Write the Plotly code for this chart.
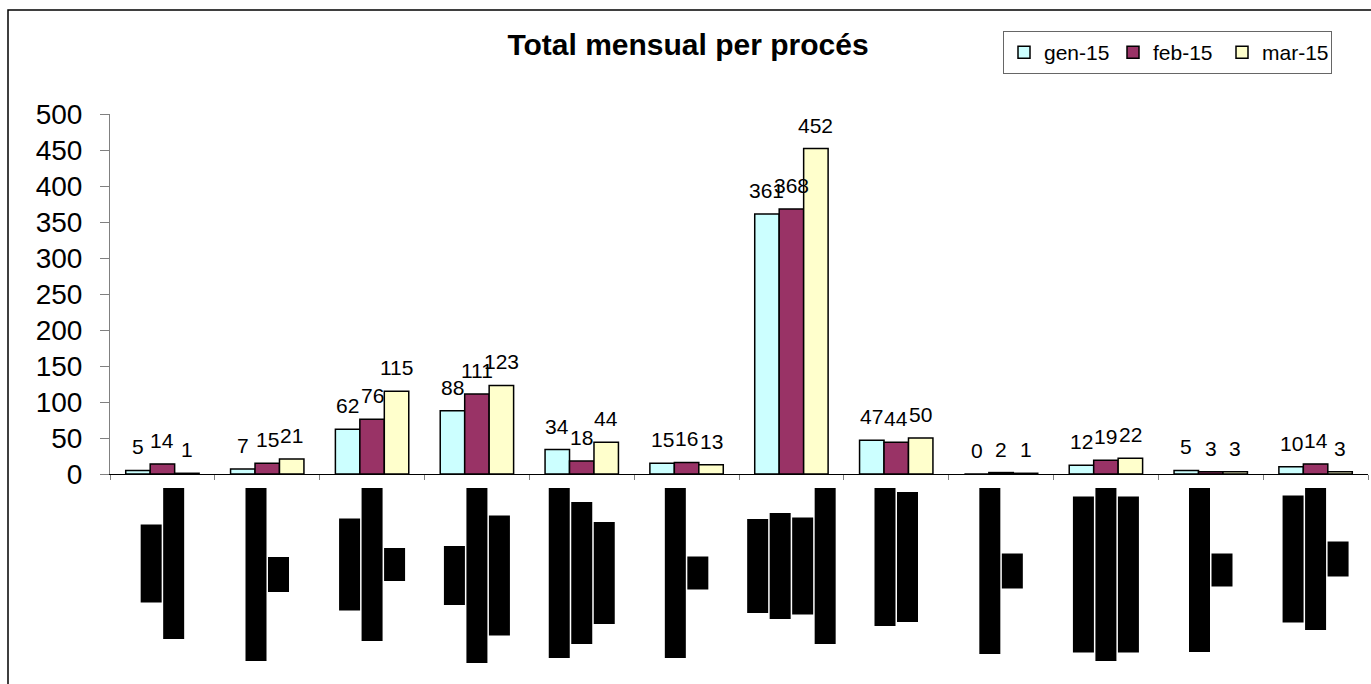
import plotly.graph_objects as go

# Process categories (label text is blanked out on the chart)
categories = [f"P{i:02d}" for i in range(1, 13)]
months = ["gen-15", "feb-15", "mar-15"]

gen_15 = [5, 7, 62, 88, 34, 15, 361, 47, 0, 12, 5, 10]
feb_15 = [14, 15, 76, 111, 18, 16, 368, 44, 2, 19, 3, 14]
mar_15 = [1, 21, 115, 123, 44, 13, 452, 50, 1, 22, 3, 3]

y_ticks = [0, 50, 100, 150, 200, 250, 300, 350, 400, 450, 500]

# Lengths (px) of the blanked-out label lines under each category
label_lines = [
    [78, 151], [173, 35], [92, 153, 33], [59, 175, 120],
    [170, 142, 102], [170, 33], [94, 106, 97, 156], [138, 130],
    [166, 35], [156, 173, 156], [164, 33], [127, 142, 35],
]

W, H = 1371, 684
ML, MR, MT, MB = 110, 3, 114, 210
PW, PH = W - ML - MR, H - MT - MB

FONT = "Arial, 'Liberation Sans', sans-serif"
colors = ["#CCFFFF", "#993366", "#FFFFCC"]
series = [gen_15, feb_15, mar_15]
BARGAP = 0.3

fig = go.Figure()
for name, vals, col in zip(months, series, colors):
    fig.add_trace(go.Bar(
        x=categories, y=vals, name=name,
        marker=dict(color=col, line=dict(color="black", width=1.5)),
    ))

# Value labels above each bar
bw = (1 - BARGAP) / len(series)
annotations = []
for k, vals in enumerate(series):
    for i, v in enumerate(vals):
        annotations.append(dict(
            x=i + (k - (len(series) - 1) / 2) * bw, y=v, xref="x", yref="y",
            text=str(v), showarrow=False, yanchor="bottom", yshift=10,
            font=dict(family=FONT, size=21, color="black"),
        ))

shapes = []
# Black bars covering the rotated category labels
LINE_W, LINE_STEP, TOP_GAP = 21, 22.5, 14
for i, lines in enumerate(label_lines):
    n = len(lines)
    centre = TOP_GAP + max(lines) / 2
    for j, ln in enumerate(lines):
        off = (j - (n - 1) / 2) * LINE_STEP
        shapes.append(dict(
            type="rect", xref="x", yref="paper",
            xsizemode="pixel", ysizemode="pixel",
            xanchor=i, yanchor=0,
            x0=off - LINE_W / 2, x1=off + LINE_W / 2,
            y0=-(centre - ln / 2), y1=-(centre + ln / 2),
            fillcolor="black", line=dict(width=0),
        ))

# Chart-area frame
shapes.append(dict(
    type="rect", xref="paper", yref="paper",
    x0=(8 - ML) / PW, x1=1.2, y0=-1.0, y1=(PH + MT - 10) / PH,
    line=dict(color="black", width=1.5), fillcolor="rgba(0,0,0,0)", layer="below",
))

fig.update_layout(
    width=W, height=H,
    margin=dict(l=ML, r=MR, t=MT, b=MB, pad=0),
    paper_bgcolor="white", plot_bgcolor="white",
    barmode="group", bargap=BARGAP, bargroupgap=0,
    title=dict(
        text="<b>Total mensual per procés</b>",
        x=688 / W, xanchor="center", xref="container",
        y=1 - 44 / H, yanchor="middle", yref="container",
        font=dict(family=FONT, size=30, color="black"),
    ),
    legend=dict(
        orientation="h", x=(1003 - ML) / PW, y=(PH + MT - 31) / PH,
        xanchor="left", yanchor="top",
        font=dict(family=FONT, size=21, color="black"),
        bgcolor="white", bordercolor="#666666", borderwidth=1,
        entrywidth=64, entrywidthmode="pixels", itemwidth=30,
    ),
    xaxis=dict(
        type="category", showline=True, linecolor="black", linewidth=1,
        ticks="outside", ticklen=5, tickcolor="#808080", tickson="boundaries",
        showticklabels=False, showgrid=False, zeroline=False,
        range=[-0.5, 11.5],
    ),
    yaxis=dict(
        range=[0, 500], tickvals=y_ticks, showline=True, linecolor="#808080",
        linewidth=1, ticks="outside", ticklen=9, tickcolor="#808080",
        ticklabelstandoff=12, showgrid=False, zeroline=False,
        tickfont=dict(family=FONT, size=28, color="black"),
    ),
    annotations=annotations,
    shapes=shapes,
    showlegend=True,
)

fig.write_html("out.html")
